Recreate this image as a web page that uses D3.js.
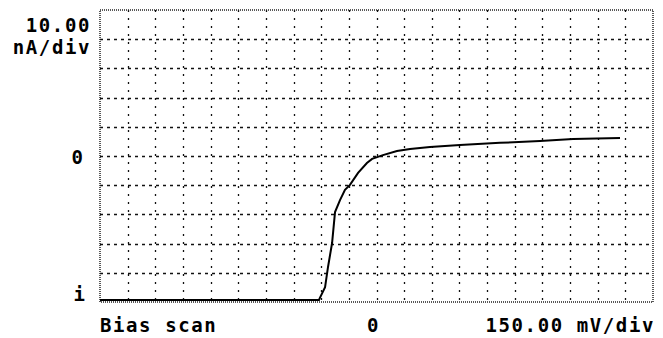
<!DOCTYPE html>
<html>
<head>
<meta charset="utf-8">
<script src="https://cdn.jsdelivr.net/npm/d3@7"></script>
<style>
    body { margin: 0; background: #fff; }
    svg { display: block; }
    .lbl { font-family: "DejaVu Sans Mono", monospace; font-weight: bold; font-size: 19px; fill: #000; letter-spacing: 1.6px; }
</style>
</head>
<body>
<div id="chart"></div>
<script>
// bias in mV, current in nA
var biasMv = [-1500, -312, -307, -279, -263, -241, -225, -198, -171, -144, -100, -52, -24, 35, 111, 182, 290, 453, 670, 887, 1066, 1321];
var currentNa = [-49.3, -49.3, -48.6, -44.9, -38.0, -29.8, -19.2, -15.1, -11.6, -9.9, -5.8, -2.4, -1.0, 0.3, 1.7, 2.4, 3.1, 3.8, 4.5, 5.1, 5.8, 6.2];

var xDomain = [-1500, 1500],
    yDomain = [-50, 50],
    xDivs = 20,
    yDivs = 10;

var yLabelTop = ["10.00", "nA/div"],
    yLabelZero = "0",
    yLabelBottom = "i",
    xLabels = ["Bias scan", "0", "150.00 mV/div"];

var width = 663,
    height = 338,
    margin = {left: 100, right: 10, top: 10, bottom: 36};

var svg = d3.select("#chart").append("svg")
    .attr("width", width)
    .attr("height", height);

var x = d3.scaleLinear().domain(xDomain).range([margin.left, width - margin.right]);
var y = d3.scaleLinear().domain(yDomain).range([height - margin.bottom, margin.top]);

// grid
var xGrid = d3.range(1, xDivs).map(function (i) { return xDomain[0] + i * (xDomain[1] - xDomain[0]) / xDivs; });
var yGrid = d3.range(1, yDivs).map(function (i) { return yDomain[0] + i * (yDomain[1] - yDomain[0]) / yDivs; });

svg.append("g").selectAll("line")
    .data(xGrid)
    .enter().append("line")
    .attr("x1", function (d) { return Math.round(x(d)) + 0.5; })
    .attr("x2", function (d) { return Math.round(x(d)) + 0.5; })
    .attr("y1", y(yDomain[1]))
    .attr("y2", y(yDomain[0]))
    .attr("stroke", "#111")
    .attr("stroke-width", 1.3)
    .attr("stroke-dasharray", "2,6");

svg.append("g").selectAll("line")
    .data(yGrid)
    .enter().append("line")
    .attr("x1", x(xDomain[0]))
    .attr("x2", x(xDomain[1]))
    .attr("y1", function (d) { return Math.round(y(d)) + 0.5; })
    .attr("y2", function (d) { return Math.round(y(d)) + 0.5; })
    .attr("stroke", "#111")
    .attr("stroke-width", 1.3)
    .attr("stroke-dasharray", "3,4");

// frame
svg.append("rect")
    .attr("x", x(xDomain[0]))
    .attr("y", y(yDomain[1]))
    .attr("width", x(xDomain[1]) - x(xDomain[0]))
    .attr("height", y(yDomain[0]) - y(yDomain[1]))
    .attr("fill", "none")
    .attr("stroke", "#222")
    .attr("stroke-width", 1.5)
    .attr("stroke-dasharray", "1,1");

// trace
var line = d3.line()
    .x(function (d, i) { return x(biasMv[i]); })
    .y(function (d) { return y(d); });

svg.append("path")
    .datum(currentNa)
    .attr("d", line)
    .attr("fill", "none")
    .attr("stroke", "#000")
    .attr("stroke-width", 2);

// labels
svg.append("text").attr("class", "lbl")
    .attr("x", 91).attr("y", 32).attr("text-anchor", "end")
    .text(yLabelTop[0]);
svg.append("text").attr("class", "lbl")
    .attr("x", 91).attr("y", 54).attr("text-anchor", "end")
    .text(yLabelTop[1]);
svg.append("text").attr("class", "lbl")
    .attr("x", 78).attr("y", y(0) + 8).attr("text-anchor", "middle")
    .text(yLabelZero);
svg.append("text").attr("class", "lbl")
    .attr("x", 80).attr("y", y(yDomain[0]) - 1).attr("text-anchor", "middle")
    .text(yLabelBottom);

svg.append("text").attr("class", "lbl")
    .attr("x", x(xDomain[0])).attr("y", 332).attr("text-anchor", "start")
    .text(xLabels[0]);
svg.append("text").attr("class", "lbl")
    .attr("x", x(0) - 3).attr("y", 332).attr("text-anchor", "middle")
    .text(xLabels[1]);
svg.append("text").attr("class", "lbl")
    .attr("x", x(xDomain[1]) + 2).attr("y", 332).attr("text-anchor", "end")
    .text(xLabels[2]);
</script>
</body>
</html>
